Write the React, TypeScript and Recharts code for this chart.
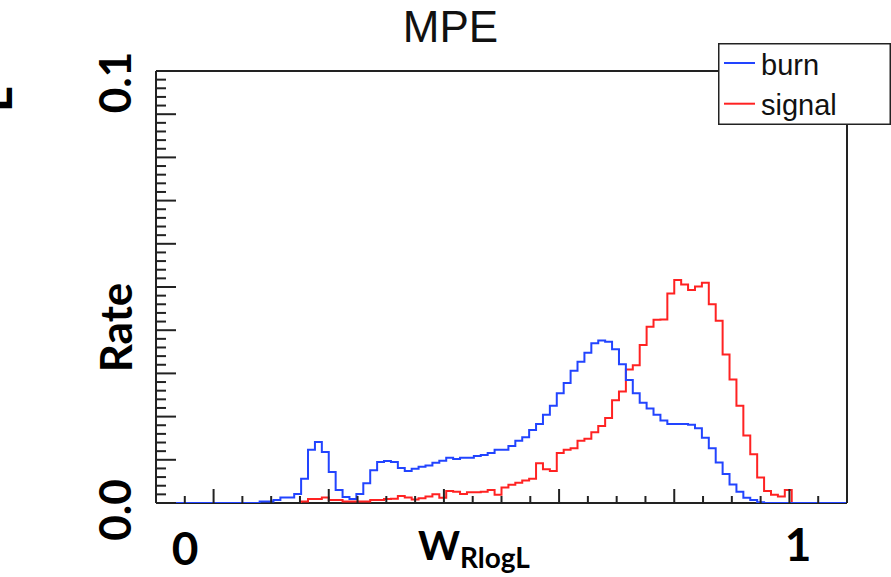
import React from "react";
import { LineChart, Line, XAxis, YAxis, Legend } from "recharts";

// 100 bins over [-0.1, 1.1]
const BIN_LO = -0.1;
const BIN_W = 0.012;

const burn = [
  0, 0, 0, 0, 0, 0, 0, 0, 0, 0,
  0, 0, 0, 0, 0, 0.00035, 0.00035, 0.0007, 0.0013, 0.0013,
  0.0021, 0.0056, 0.0123, 0.0141, 0.0118, 0.0072, 0.003, 0.0014, 0.0009, 0.0021,
  0.0046, 0.0076, 0.0095, 0.0097, 0.0095, 0.0081, 0.0074, 0.0079, 0.0084, 0.0087,
  0.0093, 0.0098, 0.0105, 0.0102, 0.0105, 0.0105, 0.0109, 0.0111, 0.0116, 0.0123,
  0.0123, 0.0132, 0.0144, 0.0152, 0.0169, 0.0183, 0.0204, 0.0225, 0.0254, 0.0278,
  0.0306, 0.0327, 0.0348, 0.037, 0.0376, 0.0373, 0.0356, 0.0321, 0.0285, 0.0254,
  0.0232, 0.0219, 0.0204, 0.0191, 0.0183, 0.0183, 0.0183, 0.0181, 0.0173, 0.0151,
  0.0127, 0.0094, 0.0067, 0.0043, 0.0026, 0.0012, 0.0007, 0.0002, 0, 0,
  0, 0, 0, 0, 0, 0, 0, 0, 0, 0,
];

const signal = [
  0, 0, 0, 0, 0, 0, 0, 0, 0, 0,
  0, 0, 0, 0, 0, 0, 0, 0, 0, 0,
  0, 0.00035, 0.0009, 0.0009, 0.0013, 0.0007, 0.0007, 0.00035, 0.00035, 0.00035,
  0.00035, 0.0007, 0.0007, 0.0009, 0.001, 0.0016, 0.0013, 0.0008, 0.0011, 0.0015,
  0.002, 0.0012, 0.0028, 0.0026, 0.0021, 0.0025, 0.0025, 0.0026, 0.003, 0.0019,
  0.0036, 0.0042, 0.0047, 0.0052, 0.0056, 0.0092, 0.0078, 0.0074, 0.0116, 0.0123,
  0.0127, 0.0144, 0.0149, 0.0164, 0.0178, 0.0197, 0.0238, 0.0258, 0.0309, 0.0319,
  0.0366, 0.0408, 0.0424, 0.0425, 0.0485, 0.0516, 0.0506, 0.0493, 0.0501, 0.051,
  0.046, 0.0422, 0.0344, 0.0286, 0.0225, 0.0156, 0.0113, 0.0059, 0.0028, 0.0019,
  0.0015, 0.003, 0, 0, 0, 0, 0, 0, 0, 0,
];

const X_TICKS = [
  -0.1, -0.05, 0, 0.05, 0.1, 0.15, 0.2, 0.25, 0.3, 0.35, 0.4, 0.45, 0.5,
  0.55, 0.6, 0.65, 0.7, 0.75, 0.8, 0.85, 0.9, 0.95, 1.0, 1.05, 1.1,
];
const X_MAJOR = [0, 0.2, 0.4, 0.6, 0.8, 1.0];

const Y_TICKS = [
  0, 0.002, 0.004, 0.006, 0.008, 0.01, 0.012, 0.014, 0.016, 0.018,
  0.02, 0.022, 0.024, 0.026, 0.028, 0.03, 0.032, 0.034, 0.036, 0.038,
  0.04, 0.042, 0.044, 0.046, 0.048, 0.05, 0.052, 0.054, 0.056, 0.058,
  0.06, 0.062, 0.064, 0.066, 0.068, 0.07, 0.072, 0.074, 0.076, 0.078,
  0.08, 0.082, 0.084, 0.086, 0.088, 0.09, 0.092, 0.094, 0.096, 0.098, 0.1,
];
const Y_MAJOR = [0, 0.01, 0.02, 0.03, 0.04, 0.05, 0.06, 0.07, 0.08, 0.09, 0.1];

const BLUE = "#2244ff";
const RED = "#ff2222";
const AXIS = "#222";
const BIG = "Lato, 'Open Sans', sans-serif";
const SANS = "'Liberation Sans', Arial, sans-serif";

// step outline of a histogram: each bin becomes a flat segment
function outline(values: number[], trim: boolean) {
  const edge = (k: number) => +(BIN_LO + BIN_W * k).toFixed(4);
  let first = 0;
  let last = values.length - 1;
  if (trim) {
    first = values.findIndex((v) => v > 0);
    last = values.length - 1 - [...values].reverse().findIndex((v) => v > 0);
  }
  const pts: { x: number; y: number }[] = [{ x: edge(first), y: 0 }];
  for (let k = first; k <= last; k++) {
    pts.push({ x: edge(k), y: values[k] });
    pts.push({ x: edge(k + 1), y: values[k] });
  }
  pts.push({ x: edge(last + 1), y: 0 });
  return pts;
}

const burnPts = outline(burn, false);
const signalPts = outline(signal, true);

const isIn = (list: number[], v: number) => list.some((m) => Math.abs(m - v) < 1e-6);

function XTick(props: any) {
  const { x, y, payload } = props;
  const len = isIn(X_MAJOR, payload.value) ? 14 : 7;
  return <line x1={x} x2={x} y1={y} y2={y - len} stroke={AXIS} strokeWidth={2} />;
}

function YTick(props: any) {
  const { x, y, payload } = props;
  const len = isIn(Y_MAJOR, payload.value) ? 20 : 10;
  return <line x1={x} x2={x + len} y1={y} y2={y} stroke={AXIS} strokeWidth={2} />;
}

const ORDER = ["burn", "signal"];

function LegendBox({ payload }: any) {
  const items = [...(payload ?? [])].sort(
    (a: any, b: any) => ORDER.indexOf(a.value) - ORDER.indexOf(b.value)
  );
  return (
    <svg width={173} height={82} style={{ display: "block" }}>
      <rect x={0.75} y={0.75} width={171.5} height={80.5} fill="#fff" stroke={AXIS} strokeWidth={1.5} />
      {items.map((it: any, i: number) => (
        <g key={it.value}>
          <line x1={6} x2={37} y1={20 + i * 40.7} y2={20 + i * 40.7} stroke={it.color} strokeWidth={2} />
          <text x={43} y={31.5 + i * 40.7} fontFamily={SANS} fontSize={29} fill="#111">
            {it.value}
          </text>
        </g>
      ))}
    </svg>
  );
}

export default function App() {
  return (
    <div style={{ position: "relative", width: 891, height: 577, background: "#fff" }}>
      <style>{"body{margin:0}"}</style>
      <LineChart width={891} height={577} margin={{ top: 70, right: 43, bottom: 73, left: 155 }}>
        <XAxis
          dataKey="x"
          type="number"
          domain={[-0.1, 1.1]}
          allowDataOverflow
          ticks={X_TICKS}
          interval={0}
          tick={XTick}
          tickLine={false}
          tickSize={0}
          tickMargin={0}
          height={1}
          axisLine={{ stroke: AXIS, strokeWidth: 2 }}
        />
        <XAxis
          xAxisId="top"
          orientation="top"
          type="number"
          domain={[-0.1, 1.1]}
          tick={false}
          tickLine={false}
          height={1}
          axisLine={{ stroke: AXIS, strokeWidth: 2 }}
        />
        <YAxis
          type="number"
          domain={[0, 0.1]}
          allowDataOverflow
          ticks={Y_TICKS}
          interval={0}
          tick={YTick}
          tickLine={false}
          tickSize={0}
          tickMargin={0}
          width={1}
          axisLine={{ stroke: AXIS, strokeWidth: 2 }}
        />
        <YAxis
          yAxisId="right"
          orientation="right"
          type="number"
          domain={[0, 0.1]}
          tick={false}
          tickLine={false}
          width={1}
          axisLine={{ stroke: AXIS, strokeWidth: 2 }}
        />
        <Line
          data={signalPts}
          dataKey="y"
          name="signal"
          type="linear"
          stroke={RED}
          strokeWidth={2}
          dot={false}
          zIndex={600}
          isAnimationActive={false}
        />
        <Line
          data={burnPts}
          dataKey="y"
          name="burn"
          type="linear"
          stroke={BLUE}
          strokeWidth={2}
          dot={false}
          zIndex={610}
          isAnimationActive={false}
        />
        <Legend
          layout="vertical"
          align="center"
          verticalAlign="middle"
          content={LegendBox}
          wrapperStyle={{ position: "absolute", left: 718, top: 43, width: 173, height: 82 }}
        />
      </LineChart>
      <svg
        width={891}
        height={577}
        style={{ position: "absolute", left: 0, top: 0, pointerEvents: "none" }}
      >
        <text x={450.5} y={41.5} textAnchor="middle" fontFamily={SANS} fontSize={44} fill="#111">
          MPE
        </text>
        <g fontFamily={BIG} fontWeight={700} fill="#000">
          <text transform="translate(12,112) rotate(-90)" fontSize={48}>L</text>
          <text transform="translate(131,82.5) rotate(-90)" textAnchor="middle" fontSize={44}>0.1</text>
          <text transform="translate(131,510) rotate(-90)" textAnchor="middle" fontSize={44}>0.0</text>
          <text transform="translate(132,327.5) rotate(-90)" textAnchor="middle" fontSize={44}>Rate</text>
          <text x={185} y={565} textAnchor="middle" fontSize={46}>0</text>
          <text x={798} y={561} textAnchor="middle" fontSize={46}>1</text>
          <text x={418} y={560} fontSize={40}>
            W<tspan fontSize={28} dy={8}>RlogL</tspan>
          </text>
        </g>
      </svg>
    </div>
  );
}
